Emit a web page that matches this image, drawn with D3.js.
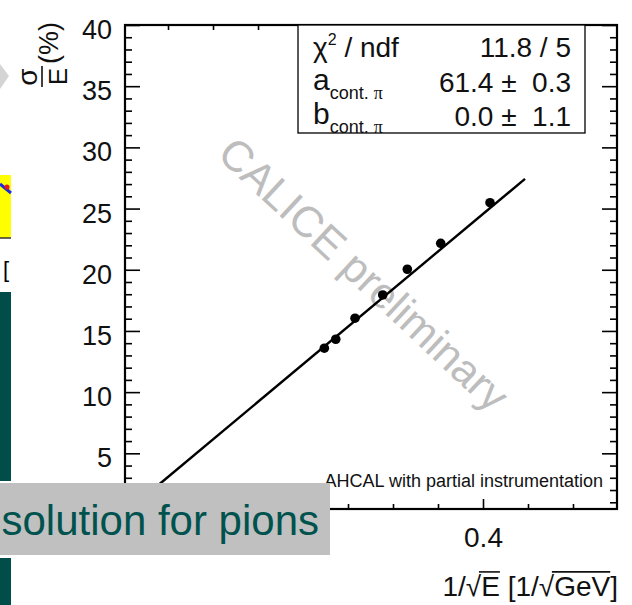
<!DOCTYPE html>
<html>
<head>
<meta charset="utf-8">
<script src="https://cdn.jsdelivr.net/npm/d3@7"></script>
<style>
  body { margin: 0; background: #fff; }
  svg { display: block; font-family: "Liberation Sans", Arial, sans-serif; }
</style>
</head>
<body>
<svg id="chart" width="632" height="605"></svg>
<script>
// measured points: 1/sqrt(E) [1/sqrt(GeV)] and sigma/E [%]
const invSqrtE   = [0.2237, 0.2364, 0.2578, 0.2886, 0.3159, 0.3530, 0.4078];
const resolution = [13.59, 14.32, 16.04, 17.94, 20.04, 22.16, 25.48];

// fit sigma/E = a/sqrt(E) (+) b  with b = 0
const fitA = 61.4;
const fitRange = [0.02, 0.4467];

// axis ticks
const yMajor = [5, 10, 15, 20, 25, 30, 35, 40];
const yMinor = d3.range(1, 40, 1);
const xMajor = [0.2, 0.4];
const xLabels = [0.4];   // 0.2 sits under the slide banner
const xMinor = [0.05, 0.1, 0.15, 0.25, 0.3, 0.35, 0.45, 0.5];

// stats box
const statNames  = ["χ", "a", "b"];
const statValues = ["11.8 / 5", "61.4 ±  0.3", "0.0 ±  1.1"];

const svg = d3.select("#chart");

let x = d3.scaleLinear().domain([0.0022, 0.5489]).range([125, 617]);
let y = d3.scaleLinear().domain([0.45, 40]).range([509, 25]);

// ---- bits of the slide on the left ----
svg.append("polygon").attr("points", "0,64 9,76 0,89").attr("fill", "#d4d4d4");
svg.append("rect").attr("x", 0).attr("y", 175).attr("width", 11).attr("height", 63).attr("fill", "#ffff00");
svg.append("line").attr("x1", 0).attr("x2", 11).attr("y1", 238).attr("y2", 238).attr("stroke", "#333").attr("stroke-width", 1.5);
svg.append("line").attr("x1", 0).attr("x2", 11).attr("y1", 184).attr("y2", 193).attr("stroke", "#1c2cd8").attr("stroke-width", 3);
svg.append("circle").attr("cx", 7).attr("cy", 187).attr("r", 2.5).attr("fill", "#e81818");
svg.append("text").attr("x", 3).attr("y", 277).attr("font-size", 22).text("[");
svg.append("rect").attr("x", 0).attr("y", 292).attr("width", 11).attr("height", 189).attr("fill", "#004d4a");
svg.append("rect").attr("x", 0).attr("y", 558).attr("width", 11).attr("height", 47).attr("fill", "#004d4a");

// ---- watermark ----
svg.append("text")
    .attr("transform", "translate(364,274) rotate(43)")
    .attr("text-anchor", "middle")
    .attr("dy", "0.35em")
    .attr("font-size", 43)
    .attr("fill", "#bdbdbd")
    .text("CALICE preliminary");

// ---- axes (ROOT style, ticks inside) ----
function clean(g) { g.select(".domain").remove(); g.selectAll("line").attr("stroke", "#000").attr("stroke-width", 1.6); }

svg.append("g").attr("transform", "translate(125,0)")
    .call(d3.axisLeft(y).tickValues(yMinor.filter(v => v % 5 != 0)).tickSizeInner(-7).tickSizeOuter(0).tickFormat(""))
    .call(clean);
svg.append("g").attr("transform", "translate(125,0)")
    .call(d3.axisLeft(y).tickValues(yMajor).tickSizeInner(-15).tickSizeOuter(0).tickPadding(13))
    .call(clean)
    .selectAll("text").attr("font-size", 27).attr("fill", "#111").attr("font-family", "Liberation Sans, Arial").attr("dy", "0.5em");

svg.append("g").attr("transform", "translate(617,0)")
    .call(d3.axisLeft(y).tickValues(yMinor.filter(v => v % 5 != 0)).tickSizeInner(7).tickSizeOuter(0).tickFormat(""))
    .call(clean);
svg.append("g").attr("transform", "translate(617,0)")
    .call(d3.axisLeft(y).tickValues(yMajor).tickSizeInner(15).tickSizeOuter(0).tickFormat(""))
    .call(clean);

svg.append("g").attr("transform", "translate(0,509)")
    .call(d3.axisBottom(x).tickValues(xMinor).tickSizeInner(-5).tickSizeOuter(0).tickFormat(""))
    .call(clean);
svg.append("g").attr("transform", "translate(0,509)")
    .call(d3.axisBottom(x).tickValues(xMajor).tickSizeInner(-10).tickSizeOuter(0).tickFormat(""))
    .call(clean);
svg.append("g").attr("transform", "translate(0,509)")
    .call(d3.axisBottom(x).tickValues(xLabels).tickSizeInner(0).tickSizeOuter(0).tickPadding(18).tickFormat(d3.format(".1f")))
    .call(clean)
    .selectAll("text").attr("font-size", 28).attr("fill", "#111").attr("font-family", "Liberation Sans, Arial");

svg.append("g").attr("transform", "translate(0,25)")
    .call(d3.axisTop(x).tickValues(xMinor).tickSizeInner(-5).tickSizeOuter(0).tickFormat(""))
    .call(clean);
svg.append("g").attr("transform", "translate(0,25)")
    .call(d3.axisTop(x).tickValues(xMajor).tickSizeInner(-10).tickSizeOuter(0).tickFormat(""))
    .call(clean);

// frame
svg.append("rect")
    .attr("x", x.range()[0]).attr("y", y.range()[1])
    .attr("width", x.range()[1] - x.range()[0]).attr("height", y.range()[0] - y.range()[1])
    .attr("fill", "none").attr("stroke", "#000").attr("stroke-width", 2.2);

// ---- fit and data ----
let line = d3.line().x(d => x(d)).y(d => y(fitA * d));
svg.append("path").datum(fitRange).attr("d", line)
    .attr("stroke", "#000").attr("stroke-width", 2.4).attr("fill", "none");

svg.append("g").selectAll("circle")
    .data(invSqrtE)
    .enter().append("circle")
    .attr("cx", d => x(d))
    .attr("cy", (d, i) => y(resolution[i]))
    .attr("r", 4.8)
    .attr("fill", "#000");

// ---- stats box ----
svg.append("rect").attr("x", 298).attr("y", 25).attr("width", 287).attr("height", 108)
    .attr("fill", "#fff").attr("stroke", "#000").attr("stroke-width", 1.3);

let rowY = [57, 90, 124];
let t0 = svg.append("text").attr("x", 313).attr("y", rowY[0]).attr("font-size", 28).attr("fill", "#111");
t0.append("tspan").text(statNames[0]);
t0.append("tspan").attr("font-size", 16).attr("dy", -12).text("2");
t0.append("tspan").attr("dy", 12).text(" / ndf");
[1, 2].forEach(function(i) {
    let t = svg.append("text").attr("x", 313).attr("y", rowY[i]).attr("font-size", 30).attr("fill", "#111");
    t.append("tspan").text(statNames[i]);
    t.append("tspan").attr("font-size", 18).attr("dy", 9).text("cont. ");
    t.append("tspan").attr("font-size", 18).attr("font-family", "Liberation Serif, serif").text("π");
});
statValues.forEach(function(v, i) {
    svg.append("text").attr("x", 571).attr("y", rowY[i] + (i ? 2 : 0)).attr("text-anchor", "end")
        .attr("font-size", 28).attr("fill", "#111").style("white-space", "pre").text(v);
});

svg.append("text").attr("x", 603).attr("y", 487).attr("text-anchor", "end")
    .attr("font-size", 18).attr("fill", "#111").text("AHCAL with partial instrumentation");

// ---- y title: sigma over E (%) rotated ----
let yt = svg.append("g").attr("transform", "translate(42,87) rotate(-90)").attr("fill", "#111");
yt.append("text").attr("x", 10).attr("y", -5).attr("text-anchor", "middle").attr("font-size", 28).text("σ");
yt.append("line").attr("x1", 0).attr("x2", 21).attr("y1", 0).attr("y2", 0).attr("stroke", "#111").attr("stroke-width", 1.6);
yt.append("text").attr("x", 10.5).attr("y", 25).attr("text-anchor", "middle").attr("font-size", 26).text("E");
yt.append("text").attr("x", 23).attr("y", 16).attr("font-size", 27).text("(%)");

// ---- banner ----
svg.append("rect").attr("x", 0).attr("y", 483).attr("width", 330).attr("height", 72).attr("fill", "#c0c0c0");
svg.append("text").attr("x", 319).attr("y", 535).attr("text-anchor", "end")
    .attr("font-size", 42).attr("fill", "#00524e").text("solution for pions");

// ---- x title with radicals ----
let xt = svg.append("text").attr("x", 618).attr("y", 596).attr("text-anchor", "end")
    .attr("font-size", 28).attr("fill", "#111").text("1/√E [1/√GeV]");
let node = xt.node();
[[3, 3], [9, 11]].forEach(function(r) {
    let x1 = node.getStartPositionOfChar(r[0] - 1).x + node.getExtentOfChar(r[0] - 1).width * 0.85;
    let x2 = node.getEndPositionOfChar(r[1]).x;
    svg.append("line").attr("x1", x1).attr("x2", x2).attr("y1", 596 - 28 * 0.86).attr("y2", 596 - 28 * 0.86)
        .attr("stroke", "#111").attr("stroke-width", 1.6);
});
</script>
</body>
</html>
